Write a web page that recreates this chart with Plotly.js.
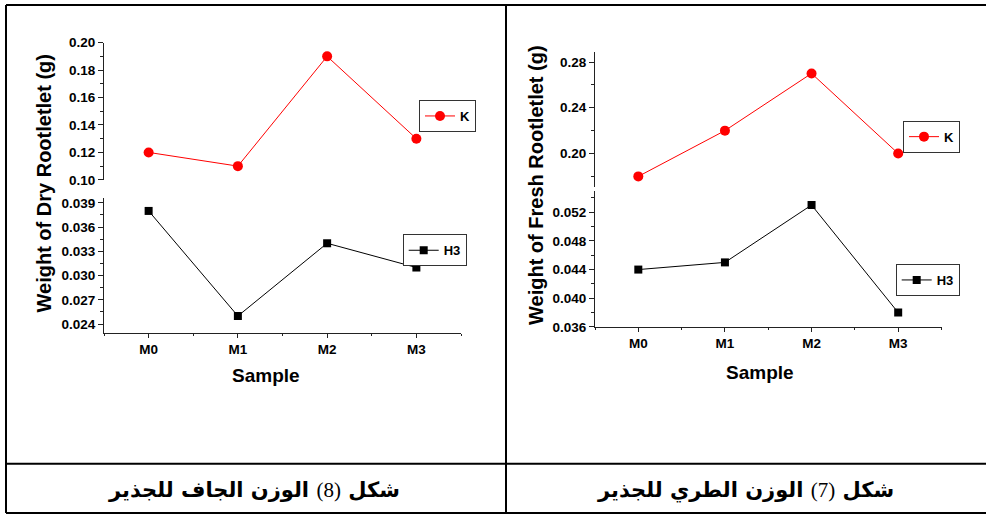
<!DOCTYPE html>
<html>
<head>
<meta charset="utf-8">
<script src="https://cdn.plot.ly/plotly-3.0.1.min.js"></script>
<style>html,body{margin:0;padding:0;background:#fff;}#chart{width:986px;height:514px;}</style>
</head>
<body>
<div id="chart"></div>
<script>
// ---- data ----
const categories = ['M0', 'M1', 'M2', 'M3'];
const dryK = [0.12, 0.11, 0.19, 0.13];
const dryH3 = [0.038, 0.025, 0.034, 0.031];
const freshK = [0.18, 0.22, 0.27, 0.20];
const freshH3 = [0.044, 0.045, 0.053, 0.038];
const seriesNames = ['K', 'H3'];
const yTitleDry = 'Weight of Dry Rootletlet (g)';
const yTitleFresh = 'Weight of Fresh Rootletlet (g)';
const xTitle = 'Sample';
const captionDry = 'شكل <span style="font-family:\'Liberation Serif\';font-weight:normal">(8)</span> الوزن الجاف للجذير';
const captionFresh = 'شكل <span style="font-family:\'Liberation Serif\';font-weight:normal">(7)</span> الوزن الطري للجذير';

// ---- helpers ----
const W = 986, H = 514;
const px = v => v / W;
const py = v => 1 - v / H;
const FONT = 'Liberation Sans, Arial, sans-serif';
const xIdx = categories.map((c, i) => i);

const redStyle = {mode: 'lines+markers', line: {color: '#ff0000', width: 1}, marker: {symbol: 'circle', size: 10, color: '#ff0000'}};
const blackStyle = {mode: 'lines+markers', line: {color: '#000000', width: 1}, marker: {symbol: 'square', size: 8, color: '#000000'}};

const traces = [
  Object.assign({x: xIdx, y: dryH3, name: seriesNames[1], xaxis: 'x', yaxis: 'y', legend: 'legend2'}, blackStyle),
  Object.assign({x: xIdx, y: dryK, name: seriesNames[0], xaxis: 'x', yaxis: 'y2', legend: 'legend'}, redStyle),
  Object.assign({x: xIdx, y: freshH3, name: seriesNames[1], xaxis: 'x2', yaxis: 'y3', legend: 'legend4'}, blackStyle),
  Object.assign({x: xIdx, y: freshK, name: seriesNames[0], xaxis: 'x2', yaxis: 'y4', legend: 'legend3'}, redStyle)
];

const tickFont = {family: FONT, size: 13.5, color: '#000', weight: 'bold'};
const axisCommon = {showline: true, linecolor: '#222', linewidth: 1, showgrid: false, zeroline: false,
  ticks: 'outside', tickcolor: '#222', tickwidth: 1, tickfont: tickFont};

function xAxis(domain, anchor) {
  return Object.assign({}, axisCommon, {domain: domain, anchor: anchor, range: [-0.5, 3.5],
    tickmode: 'array', tickvals: xIdx, ticktext: categories, ticklen: 4,
    minor: {tickmode: 'linear', tick0: -0.5, dtick: 0.5, ticks: 'outside', ticklen: 2, tickcolor: '#222', showgrid: false}});
}
function yAxis(domain, anchor, range, dtick, fmt) {
  return Object.assign({}, axisCommon, {domain: domain, anchor: anchor, range: range,
    tickmode: 'linear', tick0: 0, dtick: dtick, tickformat: fmt, ticklen: 5,
    minor: {tickmode: 'linear', tick0: 0, dtick: dtick / 2, ticks: 'outside', ticklen: 3, tickcolor: '#222', showgrid: false}});
}

function legendAt(x, y) {
  return {x: px(x), y: py(y), xanchor: 'left', yanchor: 'top', bgcolor: '#fff', bordercolor: '#333', borderwidth: 1,
    font: {family: FONT, size: 13, color: '#000', weight: 'bold'}, itemwidth: 30};
}

const titleFont = {family: FONT, size: 20, color: '#000', weight: 'bold'};
const capFont = {family: 'DejaVu Sans, sans-serif', size: 21, color: '#000', weight: 'bold'};

const annotations = [
  {xref: 'paper', yref: 'paper', x: px(43), y: py(183.5), text: yTitleDry, textangle: -90, showarrow: false, font: titleFont, xanchor: 'center', yanchor: 'middle'},
  {xref: 'paper', yref: 'paper', x: px(536), y: py(185), text: yTitleFresh, textangle: -90, showarrow: false, font: titleFont, xanchor: 'center', yanchor: 'middle'},
  {xref: 'paper', yref: 'paper', x: px(265.7), y: py(375), text: xTitle, showarrow: false, font: Object.assign({}, titleFont, {size: 19}), xanchor: 'center', yanchor: 'middle'},
  {xref: 'paper', yref: 'paper', x: px(760), y: py(372.7), text: xTitle, showarrow: false, font: Object.assign({}, titleFont, {size: 19}), xanchor: 'center', yanchor: 'middle'},
  {xref: 'paper', yref: 'paper', x: px(254), y: py(490), text: captionDry, showarrow: false, font: capFont, xanchor: 'center', yanchor: 'middle'},
  {xref: 'paper', yref: 'paper', x: px(745), y: py(490), text: captionFresh, showarrow: false, font: capFont, xanchor: 'center', yanchor: 'middle'}
];

function hline(y, x0, x1) { return {type: 'line', xref: 'paper', yref: 'paper', x0: px(x0), x1: px(x1), y0: py(y), y1: py(y), line: {color: '#000', width: 2}}; }
function vline(x, y0, y1) { return {type: 'line', xref: 'paper', yref: 'paper', x0: px(x), x1: px(x), y0: py(y0), y1: py(y1), line: {color: '#000', width: 2}}; }

const shapes = [
  hline(5, 6, 986), hline(463.7, 6, 986), hline(513, 6, 986),
  vline(6, 5, 513), vline(506, 5, 513)
];

const layout = {
  width: W, height: H,
  margin: {l: 0, r: 0, t: 0, b: 0, pad: 0},
  paper_bgcolor: '#fff', plot_bgcolor: 'rgba(0,0,0,0)',
  showlegend: true,
  xaxis: xAxis([px(104), px(461)], 'y'),
  yaxis: yAxis([py(333), py(198)], 'x', [0.0229, 0.0396], 0.003, '.3f'),
  yaxis2: yAxis([py(180), py(42.5)], 'x', [0.0999, 0.2001], 0.02, '.2f'),
  xaxis2: xAxis([px(595), px(941.5)], 'y3'),
  yaxis3: yAxis([py(327), py(190.7)], 'x2', [0.03599, 0.055], 0.004, '.3f'),
  yaxis4: yAxis([py(186.7), py(51.7)], 'x2', [0.171, 0.289], 0.04, '.2f'),
  legend: legendAt(419, 100),
  legend2: legendAt(402.7, 234.3),
  legend3: legendAt(903, 120.7),
  legend4: legendAt(895.7, 264),
  annotations: annotations,
  shapes: shapes
};

Plotly.newPlot('chart', traces, layout, {displayModeBar: false, staticPlot: true});
</script>
</body>
</html>
